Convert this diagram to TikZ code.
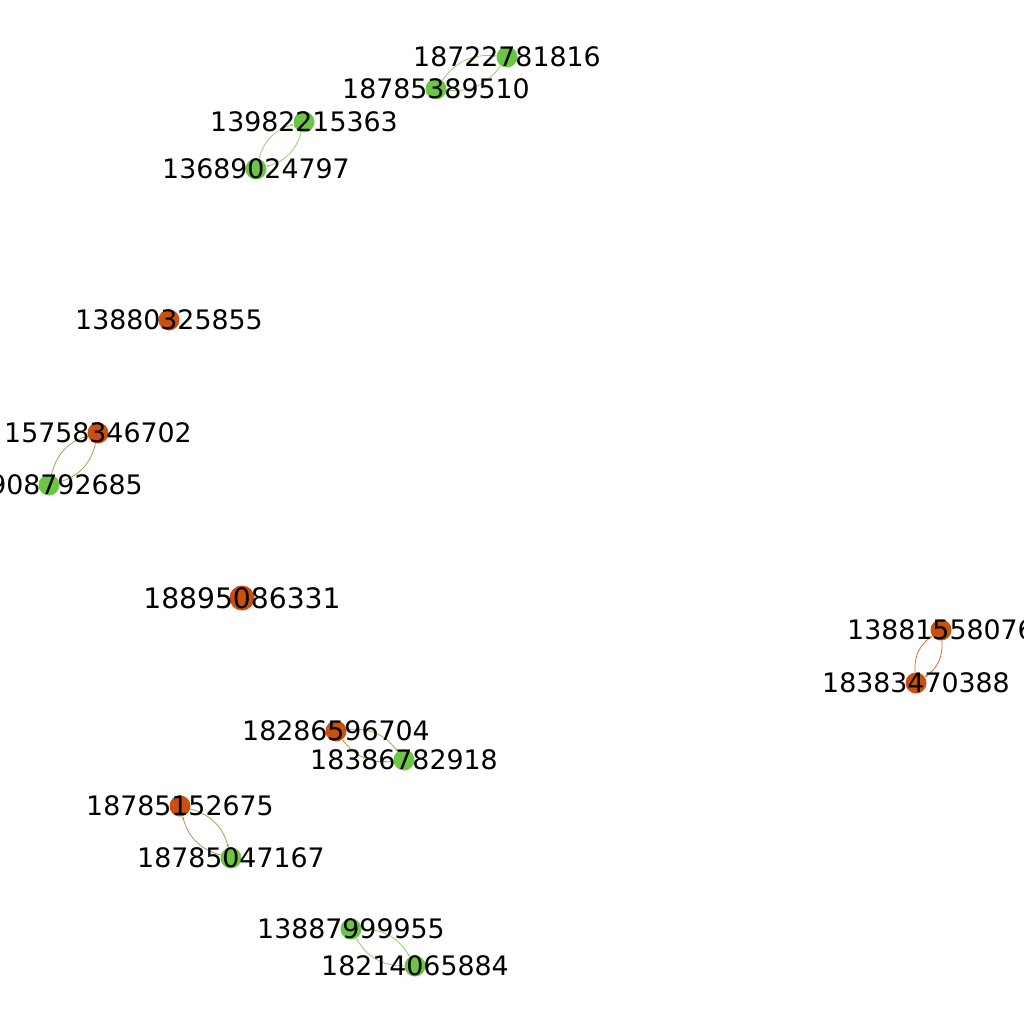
\documentclass[tikz,border=0pt]{standalone}
\usepackage{fontspec}
\setmainfont{DejaVu Sans}
\usetikzlibrary{arrows.meta}
\definecolor{ngreen}{HTML}{6CC644}
\definecolor{norange}{HTML}{C9500E}
\definecolor{egreen}{HTML}{8CD06A}
\definecolor{eolive}{HTML}{A89C4C}
\definecolor{eorange}{HTML}{D4663A}
\tikzset{
  gnode/.style={circle, inner sep=0pt, minimum size=21pt, draw=none},
  gn/.style={gnode, fill=ngreen},
  on/.style={gnode, fill=norange},
  bigon/.style={on, minimum size=25pt},
  lbl/.style={inner sep=0pt, font=\fontsize{26.8}{30}\selectfont, text=black},
  biglbl/.style={inner sep=0pt, font=\fontsize{28.2}{32}\selectfont, text=black},
  edge/.style={line width=0.75pt, -{Stealth[length=3pt,width=2.5pt]}},
  gg/.style={edge, draw=egreen},
  go/.style={edge, draw=eolive},
  oo/.style={edge, draw=eorange}
}
\begin{document}
\begin{tikzpicture}[x=1pt,y=-1pt]
\useasboundingbox[fill=white] (0,0) rectangle (1024,1024);
% node positions
\coordinate (a1) at (507,57);
\coordinate (a2) at (436,89);
\coordinate (b1) at (304,122);
\coordinate (b2) at (256,169);
\coordinate (c1) at (169,320);
\coordinate (d1) at (98,433);
\coordinate (d2) at (49,485);
\coordinate (e1) at (242,598);
\coordinate (f1) at (941,630);
\coordinate (f2) at (916,683);
\coordinate (g1) at (336,731);
\coordinate (g2) at (404,760);
\coordinate (h1) at (180,806);
\coordinate (h2) at (231,858);
\coordinate (i1) at (351,929);
\coordinate (i2) at (415,966);
% invisible node shapes used as edge anchors
\foreach \n in {a1,a2,b1,b2,c1,d1,d2,f1,f2,g1,g2,h1,h2,i1,i2}{
  \node[gnode] (n\n) at (\n) {};
}
\node[gnode, minimum size=25pt] (ne1) at (e1) {};
% edges
\draw[gg] (na1) to[bend left=30] (na2);
\draw[gg] (na2) to[bend left=30] (na1);
\draw[gg] (nb1) to[bend left=30] (nb2);
\draw[gg] (nb2) to[bend left=30] (nb1);
\draw[go] (nd1) to[bend left=30] (nd2);
\draw[go] (nd2) to[bend left=30] (nd1);
\draw[oo] (nf1) to[bend left=30] (nf2);
\draw[oo] (nf2) to[bend left=30] (nf1);
\draw[go] (ng1) to[bend left=30] (ng2);
\draw[go] (ng2) to[bend left=30] (ng1);
\draw[go] (nh1) to[bend left=30] (nh2);
\draw[go] (nh2) to[bend left=30] (nh1);
\draw[gg] (ni1) to[bend left=30] (ni2);
\draw[gg] (ni2) to[bend left=30] (ni1);
% visible nodes
\foreach \n/\s in {a1/gn,a2/gn,b1/gn,b2/gn,c1/on,d1/on,d2/gn,f1/on,f2/on,g1/on,g2/gn,h1/on,h2/gn,i1/gn,i2/gn}{
  \node[\s] (v\n) at (\n) {};
}
\node[bigon] (ve1) at (e1) {};
% labels
\node[lbl] (la1) at (a1) {18722781816};
\node[lbl] (la2) at (a2) {18785389510};
\node[lbl] (lb1) at (b1) {13982215363};
\node[lbl] (lb2) at (b2) {13689024797};
\node[lbl] (lc1) at (c1) {13880325855};
\node[lbl] (ld1) at (d1) {15758346702};
\node[lbl] (ld2) at (d2) {13908792685};
\node[biglbl] (le1) at (e1) {18895086331};
\node[lbl] (lf1) at (f1) {13881558076};
\node[lbl] (lf2) at (f2) {18383470388};
\node[lbl] (lg1) at (g1) {18286596704};
\node[lbl] (lg2) at (g2) {18386782918};
\node[lbl] (lh1) at (h1) {18785152675};
\node[lbl] (lh2) at (h2) {18785047167};
\node[lbl] (li1) at (i1) {13887999955};
\node[lbl] (li2) at (i2) {18214065884};
\end{tikzpicture}
\end{document}
